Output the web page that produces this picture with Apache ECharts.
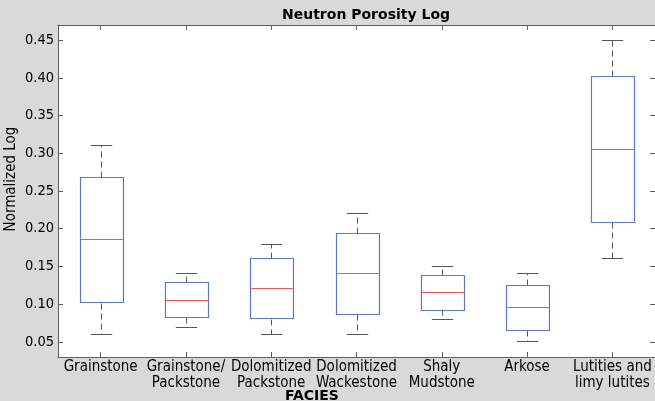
<!DOCTYPE html>
<html>
<head>
<meta charset="utf-8">
<script src="https://cdn.jsdelivr.net/npm/echarts@6/dist/echarts.min.js"></script>
<style>
html,body{margin:0;padding:0;background:#d9d9d9;}
#chart{width:655px;height:401px;}
</style>
</head>
<body>
<div id="chart"></div>
<script>
const categories = ['Grainstone', 'Grainstone/\nPackstone', 'Dolomitized\nPackstone', 'Dolomitized\nWackestone', 'Shaly\nMudstone', 'Arkose', 'Lutities and\nlimy lutites'];
const whiskerLow  = [0.060, 0.070, 0.061, 0.061, 0.081, 0.051, 0.161];
const q1          = [0.102, 0.083, 0.081, 0.087, 0.093, 0.066, 0.209];
const median      = [0.186, 0.106, 0.121, 0.141, 0.116, 0.096, 0.305];
const q3          = [0.268, 0.129, 0.161, 0.194, 0.139, 0.126, 0.402];
const whiskerHigh = [0.311, 0.141, 0.180, 0.221, 0.151, 0.141, 0.450];
const yTicks = [0.05, 0.10, 0.15, 0.20, 0.25, 0.30, 0.35, 0.40, 0.45];

const FONT = '"DejaVu Sans Condensed", "DejaVu Sans", sans-serif';
const FONT_B = '"DejaVu Sans", sans-serif';
const data = categories.map((c, i) => [i, whiskerLow[i], q1[i], median[i], q3[i], whiskerHigh[i]]);

function renderBox(params, api) {
  const x = api.value(0);
  const lo = api.coord([x, api.value(1)]);
  const b1 = api.coord([x, api.value(2)]);
  const md = api.coord([x, api.value(3)]);
  const b3 = api.coord([x, api.value(4)]);
  const hi = api.coord([x, api.value(5)]);
  const bw = api.size([1, 0])[0] * 0.5;
  const cx = Math.round(lo[0]) + 0.5;
  const half = bw / 2, capHalf = bw / 4;
  const r = v => Math.round(v) + 0.5;
  const gray = '#555555';
  return {
    type: 'group',
    children: [
      { type: 'line', shape: { x1: cx, y1: r(b3[1]), x2: cx, y2: r(hi[1]) }, style: { stroke: gray, lineWidth: 1, lineDash: [6, 4] } },
      { type: 'line', shape: { x1: cx, y1: r(b1[1]), x2: cx, y2: r(lo[1]) }, style: { stroke: gray, lineWidth: 1, lineDash: [6, 4] } },
      { type: 'line', shape: { x1: cx - capHalf, y1: r(hi[1]), x2: cx + capHalf, y2: r(hi[1]) }, style: { stroke: gray, lineWidth: 1 } },
      { type: 'line', shape: { x1: cx - capHalf, y1: r(lo[1]), x2: cx + capHalf, y2: r(lo[1]) }, style: { stroke: gray, lineWidth: 1 } },
      { type: 'rect', shape: { x: Math.round(cx - half) + 0.5, y: r(b3[1]), width: Math.round(bw), height: Math.round(b1[1] - b3[1]) }, style: { fill: '#ffffff', stroke: '#5a7ad2', lineWidth: 1.2 } },
      { type: 'line', shape: { x1: Math.round(cx - half) + 0.5, y1: r(md[1]), x2: Math.round(cx - half) + 0.5 + Math.round(bw), y2: r(md[1]) }, style: { stroke: '#ff5050', lineWidth: 1 } }
    ]
  };
}

const chart = echarts.init(document.getElementById('chart'), null, { renderer: 'canvas' });
const axisLineStyle = { color: '#606060', width: 1 };
chart.setOption({
  backgroundColor: '#d9d9d9',
  animation: false,
  title: [
    { text: 'Neutron Porosity Log', left: 282, top: 8, padding: 0, textStyle: { fontFamily: FONT_B, fontSize: 14, fontWeight: 'bold', color: '#000' } },
    { text: 'FACIES', left: 285, top: 389, padding: 0, textStyle: { fontFamily: FONT_B, fontSize: 14, fontWeight: 'bold', color: '#000' } }
  ],
  graphic: [{
    type: 'text', x: 11, y: 179, rotation: Math.PI / 2,
    style: { text: 'Normalized Log', fontFamily: FONT, fontSize: 15, fill: '#000', align: 'center', verticalAlign: 'middle' }
  }],
  grid: { left: 58, top: 25, right: 0, bottom: 44, show: true, backgroundColor: '#ffffff', borderWidth: 0, containLabel: false, outerBoundsMode: 'none' },
  xAxis: [
    {
      type: 'category', data: categories, position: 'bottom', boundaryGap: true,
      axisLine: { show: true, lineStyle: axisLineStyle },
      axisTick: { show: true, inside: true, alignWithLabel: true, length: 5, lineStyle: axisLineStyle },
      axisLabel: { show: true, interval: 0, margin: 2, fontFamily: FONT, fontSize: 15, lineHeight: 16, color: '#000', hideOverlap: false },
      splitLine: { show: false }
    },
    {
      type: 'category', data: categories, position: 'top', boundaryGap: true,
      axisLine: { show: true, lineStyle: axisLineStyle },
      axisTick: { show: true, inside: true, alignWithLabel: true, length: 5, lineStyle: axisLineStyle },
      axisLabel: { show: false }, splitLine: { show: false }
    }
  ],
  yAxis: [
    {
      type: 'value', min: 0.03, max: 0.47, position: 'left',
      axisLine: { show: true, lineStyle: axisLineStyle },
      axisTick: { show: true, inside: true, length: 5, customValues: yTicks, lineStyle: axisLineStyle },
      axisLabel: { show: true, margin: 4, customValues: yTicks, formatter: v => v.toFixed(2), fontFamily: FONT, fontSize: 14.5, color: '#000' },
      splitLine: { show: false }
    },
    {
      type: 'value', min: 0.03, max: 0.47, position: 'right',
      axisLine: { show: true, lineStyle: axisLineStyle },
      axisTick: { show: true, inside: true, length: 5, customValues: yTicks, lineStyle: axisLineStyle },
      axisLabel: { show: false }, splitLine: { show: false }
    }
  ],
  series: [{
    type: 'custom', xAxisIndex: 0, yAxisIndex: 0,
    renderItem: renderBox,
    encode: { x: 0, y: [1, 2, 3, 4, 5] },
    data: data,
    clip: false
  }]
});
</script>
</body>
</html>
